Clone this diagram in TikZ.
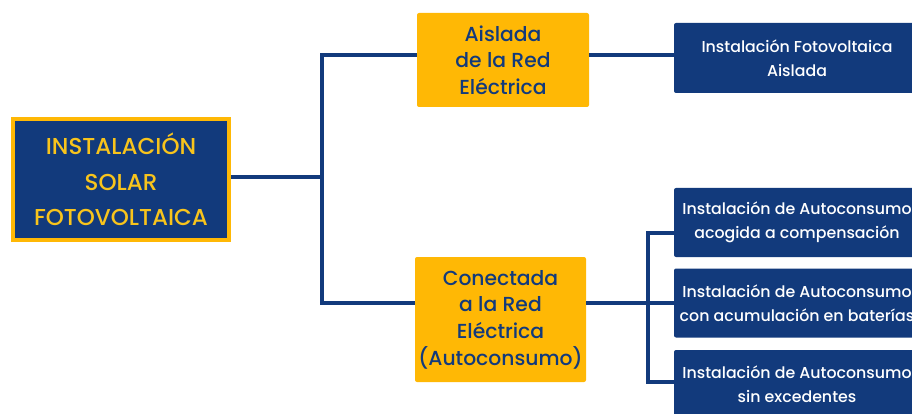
\documentclass[tikz,border=0pt]{standalone}
\usepackage{fontspec}
\setmainfont{Poppins}[UprightFont=* Medium]
\usetikzlibrary{positioning,calc}
\definecolor{navy}{HTML}{123A7C}
\definecolor{gold}{HTML}{FFB805}
\definecolor{goldtext}{HTML}{F8C41C}

\begin{document}
\begin{tikzpicture}[x=1pt,y=-1pt,
  link/.style={navy,line width=4.5pt},
  typebox/.style={fill=gold,text=navy,rounded corners=2pt,align=center,inner sep=0pt,font=\fontsize{20.3}{26.6}\selectfont},
  casebox/.style={fill=navy,text=white,rounded corners=2pt,align=center,inner sep=0pt,minimum width=246,font=\fontsize{15.8}{24}\selectfont}]
\useasboundingbox (0,0) rectangle (912,414);
\clip (0,0) rectangle (912,414);
\node[draw=gold,line width=4pt,fill=navy,text=goldtext,align=center,inner sep=0pt,minimum width=216,minimum height=121,font=\fontsize{23}{35.5}\selectfont] (main) at (121,179.5) {INSTALACIÓN\\SOLAR\\FOTOVOLTAICA};
\node[typebox,minimum width=172,minimum height=94] (aislada) at (503,60) {Aislada\\de la Red\\Eléctrica};
\node[typebox,minimum width=171,minimum height=125] (conectada) at (500.5,319.5) {Conectada\\a la Red\\Eléctrica\\(Autoconsumo)};
\node[casebox,minimum height=70] (aisladaInst) at (797,58) {Instalación Fotovoltaica\\Aislada};
\foreach \y/\id/\txt in {222.5/auto1/acogida a compensación,303/auto2/con acumulación en baterías,384.5/auto3/sin excedentes}{
\node[casebox,minimum height=69] (\id) at (797,\y) {Instalación de Autoconsumo\\\txt};}
% branches
\coordinate (forkL) at (322,177);\coordinate (forkR) at (648,303);
\draw[link] (main.east|-forkL) -- (forkL);
\draw[link] ($(aislada.west)+(0,-5)$) -| (forkL) |- ($(conectada.west)+(0,-16.5)$);
\draw[link] ($(aislada.east)+(0,-5)$) -- ($(aisladaInst.west)+(0,-3)$);
\draw[link] (conectada.east|-forkR) -- (forkR) -- (auto2.west|-forkR);
\draw[link] ($(auto1.west)+(0,10.5)$) -| (forkR) |- ($(auto3.west)+(0,-2.5)$);
\end{tikzpicture}
\end{document}
